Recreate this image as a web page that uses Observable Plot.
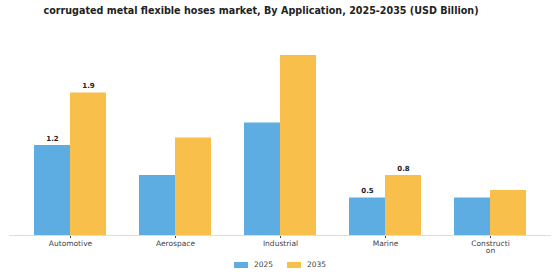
<!DOCTYPE html>
<html><head><meta charset="utf-8">
<script src="https://cdn.jsdelivr.net/npm/d3@7"></script>
<script src="https://cdn.jsdelivr.net/npm/@observablehq/plot@0.6"></script>
<style>
body{margin:0;background:#fff;font-family:"DejaVu Sans",sans-serif;}
#wrap{position:relative;width:560px;height:280px;overflow:hidden;background:#fff;}
#title{position:absolute;top:5px;left:0;width:522px;text-align:center;font-weight:bold;font-size:9.6px;color:#222;white-space:nowrap;}
#chart{position:absolute;top:20px;left:0;}
#legend{position:absolute;top:260px;left:0;width:560px;display:flex;justify-content:center;gap:14px;font-size:7.5px;color:#444;align-items:center;}
#legend .item{display:flex;align-items:center;gap:6px;}
#legend .sw{display:inline-block;width:14px;height:6px;}
</style>
</head><body>
<div id="wrap">
  <div id="title">corrugated metal flexible hoses market, By Application, 2025-2035 (USD Billion)</div>
  <div id="chart"></div>
  <div id="legend"></div>
</div>
<script>
const applications = ["Automotive", "Aerospace", "Industrial", "Marine", "Construction"];
const tickLabels = ["Automotive", "Aerospace", "Industrial", "Marine", "Constructi\non"];
const years = ["2025", "2035"];
const values2025 = [1.2, 0.8, 1.5, 0.5, 0.5];
const values2035 = [1.9, 1.3, 2.4, 0.8, 0.6];
const labeledApplications = ["Automotive", "Marine"];
const colors = ["#5DADE2", "#F8C04A"];

const data = [];
applications.forEach((app, i) => {
  data.push({app, year: years[0], value: values2025[i]});
  data.push({app, year: years[1], value: values2035[i]});
});

const chart = Plot.plot({
  width: 560,
  height: 240,
  marginLeft: 16,
  marginRight: 16,
  marginTop: 27.5,
  marginBottom: 25,
  style: {fontFamily: "DejaVu Sans", fontSize: "7.5px", color: "#444", background: "transparent"},
  fx: {domain: applications, paddingInner: 0.31, paddingOuter: 0.15, label: null, axis: "bottom",
       tickSize: 3, tickPadding: 2, tickFormat: d => tickLabels[applications.indexOf(d)]},
  x: {domain: years, padding: 0, axis: null},
  y: {domain: [0, 2.5], axis: null},
  color: {domain: years, range: colors},
  marks: [
    Plot.barY(data, {fx: "app", x: "year", y: "value", fill: "year"}),
    Plot.ruleY([0], {stroke: "#ddd", insetLeft: -25, insetRight: -25}),
    Plot.text(data.filter(d => labeledApplications.includes(d.app)), {
      fx: "app", x: "year", y: "value", text: d => d.value.toFixed(1),
      dy: -7, fontWeight: "bold", fontSize: 7, fill: "#222"
    })
  ]
});
document.getElementById("chart").appendChild(chart);

const legend = document.getElementById("legend");
years.forEach((y, i) => {
  const item = document.createElement("span");
  item.className = "item";
  const sw = document.createElement("span");
  sw.className = "sw";
  sw.style.background = colors[i];
  item.appendChild(sw);
  item.appendChild(document.createTextNode(y));
  legend.appendChild(item);
});
</script>
</body></html>
